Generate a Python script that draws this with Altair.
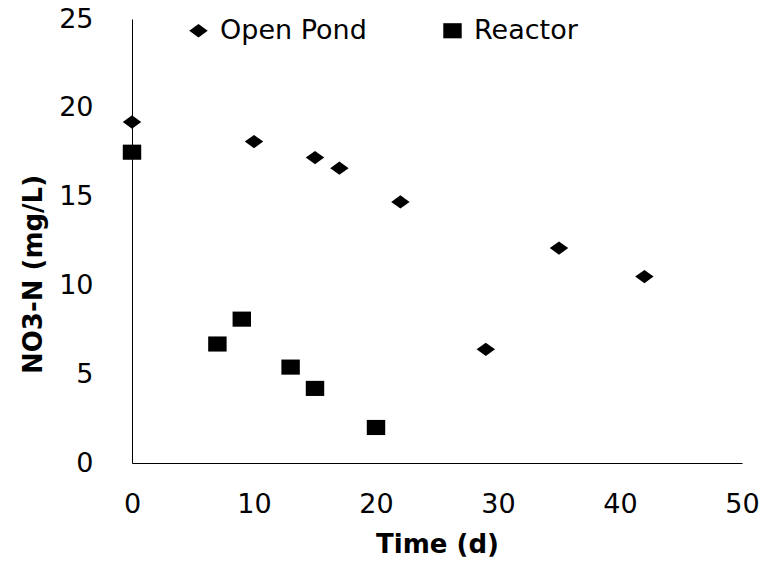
import altair as alt
import pandas as pd

pond_x = [0, 10, 15, 17, 22, 29, 35, 42]
pond_y = [19.2, 18.1, 17.2, 16.6, 14.7, 6.4, 12.1, 10.5]
reactor_x = [0, 7, 9, 13, 15, 20]
reactor_y = [17.5, 6.7, 8.1, 5.4, 4.2, 2.0]
series = ["Open Pond", "Reactor"]

df = pd.DataFrame(
    [{"t": x, "v": y, "s": series[0]} for x, y in zip(pond_x, pond_y)]
    + [{"t": x, "v": y, "s": series[1]} for x, y in zip(reactor_x, reactor_y)]
)

diamond = "M-1,0L0,-0.72L1,0L0,0.72Z"
square = "M-1,-0.82L1,-0.82L1,0.82L-1,0.82Z"
FONT = "DejaVu Sans"

chart = (
    alt.Chart(df)
    .mark_point(filled=True, size=340, opacity=1, strokeWidth=0, color="#000000")
    .encode(
        x=alt.X(
            "t:Q",
            title="Time (d)",
            scale=alt.Scale(domain=[0, 50], nice=False, zero=False),
            axis=alt.Axis(values=[0, 10, 20, 30, 40, 50], labelPadding=28,
                          titlePadding=14, labelFlush=False),
        ),
        y=alt.Y(
            "v:Q",
            title="NO3-N (mg/L)",
            scale=alt.Scale(domain=[0, 25], nice=False),
            axis=alt.Axis(values=[0, 5, 10, 15, 20, 25], labelPadding=39,
                          titlePadding=12, labelFlush=False, titleY=255),
        ),
        shape=alt.Shape(
            "s:N",
            scale=alt.Scale(domain=series, range=[diamond, square]),
            legend=alt.Legend(
                title=None,
                orient="none",
                direction="horizontal",
                legendX=53,
                legendY=-2,
                labelFontSize=27,
                labelFont=FONT,
                labelColor="#000",
                labelOffset=8,
                columnPadding=72,
                symbolSize=340,
                symbolFillColor="#000",
                symbolStrokeColor="#000",
                symbolStrokeWidth=0,
                symbolOpacity=1,
                padding=0,
            ),
        ),
    )
    .properties(
        width=610,
        height=444,
        autosize=alt.AutoSizeParams(type="none"),
        padding={"left": 124, "top": 11, "right": 20, "bottom": 96},
    )
    .configure(font=FONT)
    .configure_view(stroke=None)
    .configure_axis(
        grid=False,
        ticks=False,
        domainColor="#000",
        domainWidth=1,
        labelFont=FONT,
        labelFontSize=27,
        labelColor="#000",
        titleFont=FONT,
        titleFontSize=26,
        titleFontWeight="bold",
        titleColor="#000",
    )
)

chart.save("out.html", embed_options={"renderer": "svg", "actions": False})
